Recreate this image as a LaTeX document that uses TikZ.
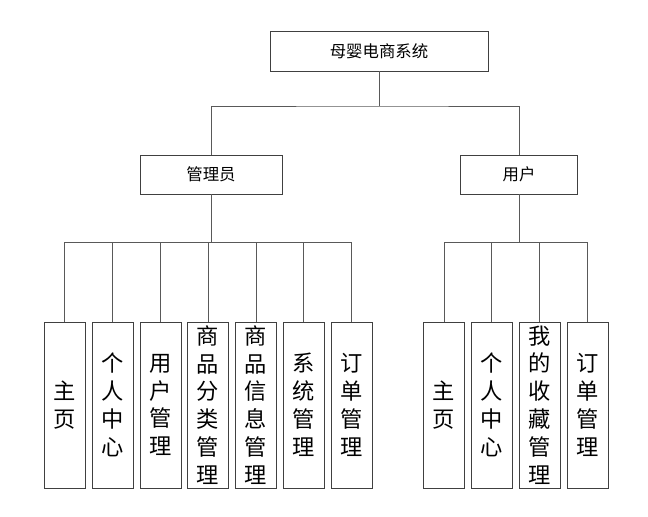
\documentclass[tikz,border=0pt]{standalone}
\usepackage{fontspec}
\newfontfamily\cjk{Noto Sans CJK SC}
\usepackage{tikz}
\usetikzlibrary{positioning}

\begin{document}
\begin{tikzpicture}[
  x=0.03cm, y=-0.03cm,
  box/.style={draw=black!75,line width=0.8pt,inner sep=0pt,font=\cjk\fontsize{14}{16}\selectfont},
  leaf/.style={box,minimum width=1.23cm,minimum height=4.98cm,align=center,
    font=\cjk\fontsize{19}{23.8}\selectfont},
  conn/.style={draw=black!65,line width=0.8pt}]
\useasboundingbox (0,0) rectangle (648,517);
\node[box,minimum width=6.54cm,minimum height=1.2cm] (root) at (379,51) {母婴电商系统};
\node[box,minimum width=4.26cm,minimum height=1.17cm] (admin) at (211,174.5) {管理员};
\node[box,minimum width=3.51cm,minimum height=1.17cm] (user) at (519,174.5) {用户};
\coordinate (rootbus) at (379,106);
\coordinate (abus) at (211,242);
\coordinate (ubus) at (519,242);
% level 1
\draw[conn] (root.south) -- (rootbus);
\draw[conn] (admin.north) |- (rootbus) -| (user.north);
% admin leaves
\foreach \i/\x/\txt in {1/64.5/主\\页, 2/112.5/个\\人\\中\\心, 3/160.5/用\\户\\管\\理,
    4/208/商\\品\\分\\类\\管\\理, 5/256/商\\品\\信\\息\\管\\理,
    6/303.5/系\\统\\管\\理, 7/351.5/订\\单\\管\\理}{
  \node[leaf] (a\i) at (\x,405) {\txt};
  \draw[conn] (a\i.north) -- (a\i.north |- abus);
}
\draw[conn] (admin.south) -- (abus);
\draw[conn] (a1.north |- abus) -- (a7.north |- abus);
% user leaves
\foreach \i/\x/\txt in {1/444/主\\页, 2/491.5/个\\人\\中\\心,
    3/539.5/我\\的\\收\\藏\\管\\理, 4/587.5/订\\单\\管\\理}{
  \node[leaf] (u\i) at (\x,405) {\txt};
  \draw[conn] (u\i.north) -- (u\i.north |- ubus);
}
\draw[conn] (user.south) -- (ubus);
\draw[conn] (u1.north |- ubus) -- (u4.north |- ubus);
\end{tikzpicture}
\end{document}
